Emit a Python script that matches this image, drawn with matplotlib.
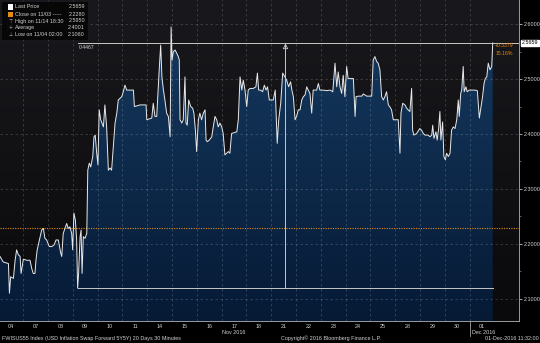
import numpy as np
import matplotlib
matplotlib.use('Agg')
import matplotlib.pyplot as plt
from matplotlib import font_manager
from matplotlib.colors import LinearSegmentedColormap
from matplotlib.patches import PathPatch, Rectangle

installed = {f.name for f in font_manager.fontManager.ttflist}
if 'Liberation Sans Narrow' in installed:
    plt.rcParams['font.family'] = ['Liberation Sans Narrow', 'DejaVu Sans']
    FS = 4.6
else:
    plt.rcParams['font.family'] = ['Liberation Sans', 'DejaVu Sans']
    FS = 3.9

# trading-session time (1 unit = 1 trading day, 0 = start of 04 Nov)
session_time = [
    0.06, 0.19, 0.40, 0.44, 0.49, 0.60, 0.67, 0.73, 0.80, 0.87, 0.91, 0.95,
    1.00, 1.14, 1.27, 1.34, 1.40, 1.47, 1.51, 1.56, 1.65, 1.74, 1.81, 1.87, 1.94,
    2.05, 2.15, 2.24, 2.32, 2.41, 2.51, 2.55, 2.61, 2.68, 2.75, 2.81, 2.88, 2.95, 2.99,
    3.04, 3.10, 3.15, 3.19, 3.23, 3.29, 3.33, 3.37, 3.42, 3.49, 3.56, 3.60, 3.66,
    3.72, 3.80, 3.85, 3.90, 3.96, 4.01, 4.06, 4.12, 4.17, 4.23, 4.29, 4.36, 4.43,
    4.50, 4.56, 4.63, 4.70, 4.77, 4.83, 4.90, 4.97, 5.03, 5.10, 5.17, 5.23, 5.44,
    5.48, 5.71, 5.95, 5.98, 6.18, 6.24, 6.31, 6.38, 6.48, 6.54, 6.59, 6.65, 6.71,
    6.78, 6.85, 6.92, 6.96, 7.00, 7.05, 7.12, 7.19, 7.25, 7.29, 7.32, 7.39, 7.45,
    7.52, 7.56, 7.61, 7.67, 7.75, 7.83, 7.88, 7.94, 7.99, 8.06, 8.12, 8.19, 8.26,
    8.33, 8.37, 8.42, 8.50, 8.60, 8.66, 8.73, 8.80, 8.86, 8.93, 9.00, 9.06, 9.13,
    9.20, 9.27, 9.33, 9.40, 9.47, 9.61, 9.67, 9.74, 9.81, 9.87, 9.94, 10.01, 10.07,
    10.14, 10.27, 10.38, 10.44, 10.49, 10.57, 10.65, 10.72, 10.79, 10.85, 10.92,
    11.08, 11.16, 11.24, 11.30, 11.38, 11.46, 11.55, 11.62, 11.70, 11.78, 11.83,
    11.89, 11.96, 12.02, 12.09, 12.16, 12.23, 12.29, 12.36, 12.43, 12.49, 12.56,
    12.63, 12.69, 12.83, 12.90, 12.96, 13.10, 13.23, 13.37, 13.48, 13.57, 13.64,
    13.70, 13.77, 13.84, 13.90, 13.97, 14.04, 14.10, 14.17, 14.31, 14.38, 14.42,
    14.51, 14.65, 14.71, 14.85, 15.05, 15.11, 15.18, 15.25, 15.31, 15.38, 15.45,
    15.52, 15.58, 15.65, 15.72, 15.79, 15.85, 15.92, 16.06, 16.12, 16.19, 16.23,
    16.30, 16.39, 16.46, 16.52, 16.59, 16.66, 16.70, 16.75, 16.86, 16.99, 17.06,
    17.13, 17.20, 17.33, 17.40, 17.47, 17.51, 17.56, 17.64, 17.69, 17.75, 17.80,
    17.84, 17.91, 17.96, 18.02, 18.07, 18.14, 18.21, 18.27, 18.34, 18.41, 18.48,
    18.54, 18.58, 18.64, 18.68, 18.74, 18.78, 18.85, 18.90, 18.98, 19.08, 19.21,
    19.31, 19.39, 19.44, 19.52, 19.58, 19.63, 19.69, 19.75, 19.82, 19.89, 19.93,
]

swap_rate = [
    2.177, 2.167, 2.164, 2.110, 2.140, 2.137, 2.170, 2.189, 2.180, 2.177, 2.146, 2.158,
    2.172, 2.170, 2.170, 2.155, 2.146, 2.146, 2.170, 2.189, 2.207, 2.225, 2.228, 2.210, 2.207,
    2.195, 2.195, 2.198, 2.207, 2.207, 2.183, 2.177, 2.219, 2.228, 2.237, 2.228, 2.231, 2.219, 2.189,
    2.256, 2.243, 2.207, 2.1192, 2.146, 2.213, 2.225, 2.146, 2.213, 2.210, 2.219, 2.334, 2.347,
    2.340, 2.359, 2.395, 2.398, 2.365, 2.344, 2.444, 2.426, 2.420, 2.413, 2.453, 2.413, 2.334,
    2.338, 2.334, 2.377, 2.420, 2.438, 2.462, 2.465, 2.468, 2.477, 2.489, 2.480, 2.480, 2.480,
    2.450, 2.453, 2.453, 2.426, 2.429, 2.456, 2.432, 2.432, 2.517, 2.562, 2.504, 2.480, 2.462,
    2.438, 2.432, 2.395, 2.595, 2.535, 2.550, 2.553, 2.547, 2.541, 2.535, 2.426, 2.420, 2.426,
    2.504, 2.420, 2.416, 2.462, 2.450, 2.447, 2.438, 2.407, 2.368, 2.426, 2.438, 2.426, 2.438,
    2.444, 2.389, 2.386, 2.389, 2.395, 2.413, 2.432, 2.426, 2.413, 2.420, 2.413, 2.401, 2.362,
    2.365, 2.368, 2.365, 2.401, 2.402, 2.404, 2.426, 2.504, 2.480, 2.498, 2.480, 2.450, 2.480,
    2.483, 2.483, 2.486, 2.511, 2.480, 2.480, 2.477, 2.489, 2.480, 2.486, 2.462,
    2.462, 2.480, 2.383, 2.426, 2.456, 2.511, 2.504, 2.498, 2.486, 2.495, 2.480,
    2.468, 2.426, 2.432, 2.444, 2.444, 2.462, 2.468, 2.471, 2.486, 2.480, 2.474,
    2.438, 2.480, 2.480, 2.492, 2.480, 2.480, 2.479, 2.480, 2.477, 2.529, 2.486,
    2.513, 2.486, 2.474, 2.507, 2.468, 2.523, 2.501, 2.501, 2.501, 2.432, 2.468,
    2.469, 2.469, 2.473, 2.469, 2.469, 2.535, 2.541, 2.532, 2.529, 2.517, 2.468,
    2.462, 2.468, 2.477, 2.453, 2.449, 2.444, 2.426, 2.426, 2.426, 2.365, 2.438,
    2.456, 2.453, 2.447, 2.444, 2.441, 2.483, 2.407, 2.398, 2.401, 2.410, 2.407,
    2.401, 2.398, 2.398, 2.395, 2.398, 2.416, 2.392, 2.404, 2.389, 2.410, 2.441,
    2.389, 2.422, 2.359, 2.353, 2.365, 2.359, 2.365, 2.407, 2.413, 2.410, 2.426,
    2.462, 2.432, 2.474, 2.480, 2.523, 2.477, 2.486, 2.477, 2.480, 2.480, 2.480,
    2.479, 2.429, 2.444, 2.468, 2.492, 2.501, 2.504, 2.529, 2.517, 2.523, 2.5659,
]

day_labels = ['04', '07', '08', '09', '10', '11', '14', '15', '16', '17',
              '18', '21', '22', '23', '24', '25', '28', '29', '30', '01']
y_ticks = [2.1, 2.2, 2.3, 2.4, 2.5, 2.6]

last_price = 2.5659
prev_close = 2.2280
measure_low = 2.1192
measure_low_time = 3.19
measure_mark_time = 11.55
measure_diff = '0.4467'
change_text = ['+0.3379', '15.16%']

legend_names = ['Last Price', 'Close on 11/03 -----', 'High on 11/14 18:30', 'Average', 'Low on 11/04 02:00']
legend_values = ['2.5659', '2.2280', '2.5950', '2.4001', '2.1060']

x_min, x_max = 0.06, 20.99
y_min, y_max = 2.0594, 2.6441

TXT = '#d2d2d2'
ORANGE = '#e38b12'

fig = plt.figure(figsize=(5.4, 3.43), dpi=100, facecolor='black')
ax = fig.add_axes([0, 22 / 343, 519 / 540, 321 / 343])
ax.set_facecolor('#111114')
ax.set_xlim(x_min, x_max)
ax.set_ylim(y_min, y_max)

# background gradient
bg = LinearSegmentedColormap.from_list('bg', ['#0a0a0c', '#19191d'])
ax.imshow(np.linspace(0, 1, 256).reshape(-1, 1), extent=[x_min, x_max, y_min, y_max],
          origin='lower', aspect='auto', cmap=bg, zorder=0)

# area fill with gradient
t = np.array(session_time)
v = np.array(swap_rate)
area = ax.fill_between(t, v, y_min, color='none', lw=0)
clip = PathPatch(area.get_paths()[0], transform=ax.transData, facecolor='none', edgecolor='none')
ax.add_patch(clip)
fill_cmap = LinearSegmentedColormap.from_list('fill', ['#061a35', '#15395f'])
img = ax.imshow(np.linspace(0, 1, 256).reshape(-1, 1), extent=[x_min, x_max, y_min, max(swap_rate)],
                origin='lower', aspect='auto', cmap=fill_cmap, zorder=1)
img.set_clip_path(clip)

# grid
for yv in y_ticks:
    ax.axhline(yv, color='white', alpha=0.18, lw=0.6, dashes=(3, 3), zorder=1.5)
for d in range(1, len(day_labels)):
    ax.axvline(d, color='white', alpha=0.18, lw=0.6, dashes=(3, 3), zorder=1.5)

ax.axhline(prev_close, color=ORANGE, lw=0.8, ls=(0, (1, 1.2)), zorder=2.5)

ax.plot(t, v, color='#e8e8e8', lw=0.7, zorder=3)

# measurement lines
ax.plot([measure_low_time, t[-1]], [measure_low, measure_low], color='#c8c8c8', lw=0.7, zorder=3)
ax.plot([measure_low_time, x_max], [last_price, last_price], color='#c8c8c8', lw=0.7, zorder=3)
ax.plot([measure_mark_time, measure_mark_time], [measure_low, last_price], color='#c8c8c8', lw=0.7, zorder=3)
ax.plot([measure_mark_time], [last_price - 0.006], marker='^', ms=3.2, mfc='none', mec='#c8c8c8', mew=0.6, zorder=4)
ax.text(measure_low_time + 0.05, last_price - 0.004, measure_diff, color=TXT, fontsize=FS - 0.2, va='top', ha='left', zorder=5)

ax.text(t[-1] + 0.1, last_price - 0.001, change_text[0], color=ORANGE, fontsize=FS - 0.2, va='top', ha='left', zorder=5)
ax.text(t[-1] + 0.1, last_price - 0.014, change_text[1], color=ORANGE, fontsize=FS - 0.2, va='top', ha='left', zorder=5)

# axes styling
for side in ['top', 'left']:
    ax.spines[side].set_visible(False)
for side in ['right', 'bottom']:
    ax.spines[side].set_color('#9a9a9a')
    ax.spines[side].set_linewidth(0.7)

ax.yaxis.tick_right()
ax.set_yticks(y_ticks)
ax.set_yticklabels([f'{y:.4f}' for y in y_ticks])
ax.set_yticks([y + 0.05 for y in y_ticks[:-1]], minor=True)
ax.tick_params(axis='y', which='major', length=2.5, width=0.6, color='#bdbdbd', labelsize=FS,
               labelcolor=TXT, pad=0.8)
ax.tick_params(axis='y', which='minor', length=1.5, width=0.5, color='#8a8a8a')

ax.set_xticks([d + 0.5 for d in range(len(day_labels))])
ax.set_xticklabels(day_labels)
ax.tick_params(axis='x', length=0, labelsize=FS, labelcolor=TXT, pad=2)

# month separator below the axis
ax.plot([19, 19], [y_min, y_min - 0.028], color='#a0a0a0', lw=0.6, clip_on=False)
ax.text(9.5, y_min - 0.0215, 'Nov 2016', color=TXT, fontsize=FS, ha='center', va='center')
ax.text(19.08, y_min - 0.0215, 'Dec 2016', color=TXT, fontsize=FS, ha='left', va='center')

# last price tag
ax.text(x_max + 0.12, last_price, f'{last_price:.4f}', color='black', fontsize=FS, va='center', ha='left',
        bbox=dict(boxstyle='square,pad=0.12', fc='white', ec='white'), clip_on=False, zorder=6)

# legend box
fig.patches.append(Rectangle((2 / 540, 1 - 40 / 343), 86 / 540, 38 / 343, transform=fig.transFigure,
                             facecolor='#060606', edgecolor='none', alpha=0.9, zorder=5))
rows = [7, 14.5, 21, 27.7, 34.3]
marks = [None, None, '⊤', '+', '⊥']
for i in range(len(legend_names)):
    y = 1 - rows[i] / 343
    if i == 0:
        fig.patches.append(Rectangle((8 / 540, y - 2.5 / 343), 5 / 540, 5 / 343, transform=fig.transFigure,
                                     facecolor='white', edgecolor='none', zorder=6))
    elif i == 1:
        fig.patches.append(Rectangle((8 / 540, y - 2.5 / 343), 5 / 540, 5 / 343, transform=fig.transFigure,
                                     facecolor=ORANGE, edgecolor='none', zorder=6))
    else:
        fig.text(10.5 / 540, y, marks[i], color='#bbbbbb', fontsize=FS - 0.5, ha='center', va='center',
                 family=['DejaVu Sans'], zorder=6)
    fig.text(15 / 540, y, legend_names[i], color=TXT, fontsize=FS, ha='left', va='center', zorder=6)
    fig.text(85 / 540, y, legend_values[i], color=TXT, fontsize=FS, ha='right', va='center', zorder=6)
fig.add_artist(plt.Line2D([6.5 / 540, 6.5 / 540], [1 - 10 / 343, 1 - 35 / 343], color='#777777', lw=0.5,
                          ls=(0, (1, 1)), transform=fig.transFigure))

# footer
fig.text(2 / 540, 1 - 338.5 / 343, 'FWISUS55 Index (USD Inflation Swap Forward 5Y5Y) 20 Days 30 Minutes',
         color=TXT, fontsize=FS, ha='left', va='center')
fig.text(331 / 540, 1 - 338.5 / 343, 'Copyright\u00a9 2016 Bloomberg Finance L.P.',
         color=TXT, fontsize=FS, ha='center', va='center')
fig.text(539 / 540, 1 - 338.5 / 343, '01-Dec-2016 11:32:00',
         color=TXT, fontsize=FS, ha='right', va='center')

fig.savefig('out.png', dpi=100, facecolor='black')
